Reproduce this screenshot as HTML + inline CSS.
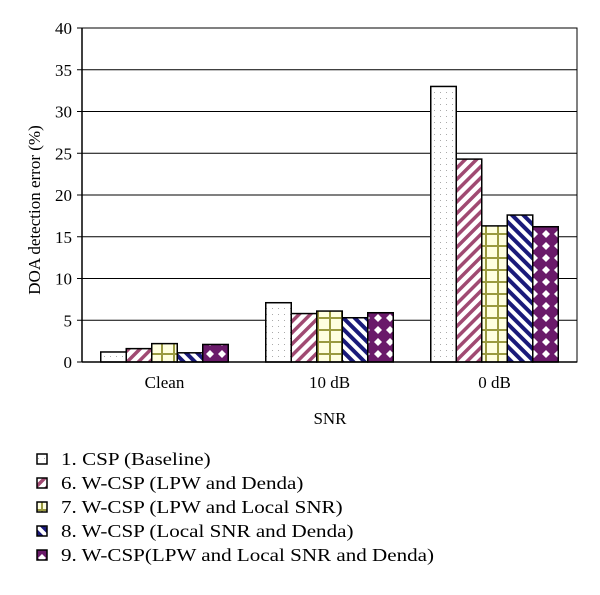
<!DOCTYPE html>
<html><head><meta charset="utf-8"><style>
body{margin:0;background:#fff;}
svg text{font-family:"Liberation Serif",serif;fill:#000;}
</style></head><body>
<svg id="chart" width="600" height="590" xmlns="http://www.w3.org/2000/svg">
<defs>
<pattern id="p0" width="6" height="6" patternUnits="userSpaceOnUse"><rect width="6" height="6" fill="#fff"/><rect x="2" y="2" width="1" height="1" fill="#aaa"/></pattern>
<pattern id="p1" width="8" height="8" patternUnits="userSpaceOnUse" patternTransform="rotate(45)"><rect width="8" height="8" fill="#fff"/><rect width="3.5" height="8" fill="#a04a72"/></pattern>
<pattern id="p2" width="12" height="12" patternUnits="userSpaceOnUse"><rect width="12" height="12" fill="#ffffe0"/><rect x="0" y="5" width="12" height="2" fill="#9a9a40"/><rect x="5" y="0" width="2" height="12" fill="#9a9a40"/></pattern>
<pattern id="p3" width="8" height="8" patternUnits="userSpaceOnUse" patternTransform="rotate(-45)"><rect width="8" height="8" fill="#fff"/><rect width="4" height="8" fill="#1a1a7a"/></pattern>
<pattern id="p4" width="12" height="12" patternUnits="userSpaceOnUse"><rect width="12" height="12" fill="#6a1a6a"/><polygon points="6,2 10,6 6,10 2,6" fill="#fff"/></pattern>
</defs>
<g id="grid"></g>
<g id="bars"></g>
<g id="axes"></g>
<g id="legend"></g>
<text x="330" y="424" font-size="17" text-anchor="middle">SNR</text>
<text transform="translate(40,210) rotate(-90)" font-size="17" text-anchor="middle">DOA detection error (%)</text>
</svg>
<script>
const categories=["Clean","10 dB","0 dB"];
const seriesNames=["1. CSP (Baseline)","6. W-CSP (LPW and Denda)","7. W-CSP (LPW and Local SNR)","8. W-CSP (Local SNR and Denda)","9. W-CSP(LPW and Local SNR and Denda)"];
const s1=[1.2,7.1,33.0];
const s6=[1.6,5.8,24.3];
const s7=[2.2,6.1,16.3];
const s8=[1.1,5.3,17.6];
const s9=[2.1,5.9,16.2];
const yTicks=[0,5,10,15,20,25,30,35,40];
const series=[s1,s6,s7,s8,s9];
const NS="http://www.w3.org/2000/svg";
const X0=82,X1=577,Y0=362,Y1=28,YMAX=40;
const y=v=>Y0-(v/YMAX)*(Y0-Y1);
const gw=(X1-X0)/categories.length, bw=25.5;
function mk(tag,attrs,parent){const e=document.createElementNS(NS,tag);for(const k in attrs)e.setAttribute(k,attrs[k]);parent.appendChild(e);return e;}
const grid=document.getElementById('grid'),bars=document.getElementById('bars'),axes=document.getElementById('axes'),legend=document.getElementById('legend');
mk('rect',{x:X0,y:Y1,width:X1-X0,height:Y0-Y1,fill:'#fff',stroke:'#000','stroke-width':1},grid);
yTicks.forEach(t=>{
  const l=mk('line',{x1:X0-5,x2:X1,y1:y(t),y2:y(t),stroke:'#000','stroke-width':1},grid);
  
  
  const tx=mk('text',{x:X0-10,y:y(t)+6,'font-size':17,'text-anchor':'end'},axes);
  tx.textContent=t;
  
  
});
categories.forEach((c,i)=>{
  const cx=X0+gw*(i+0.5);
  const start=cx-bw*series.length/2;
  series.forEach((s,j)=>{
    const r=mk('rect',{x:start+j*bw,y:y(s[i]),width:bw,height:Y0-y(s[i]),fill:'url(#p'+j+')',stroke:'#000','stroke-width':1.5},bars);
    
    
  });
  const tx=mk('text',{x:cx,y:Y0+26,'font-size':17,'text-anchor':'middle'},axes);
  tx.textContent=c;
  
  
});
mk('line',{x1:X0,x2:X0,y1:Y1,y2:Y0,stroke:'#000','stroke-width':1.5},axes);
mk('line',{x1:X0,x2:X1,y1:Y0,y2:Y0,stroke:'#000','stroke-width':1.5},axes);
seriesNames.forEach((n,j)=>{
  const yy=459+j*24;
  const g=mk('g',{},legend);
  
  
  mk('rect',{x:37,y:yy-5,width:10,height:10,fill:'url(#p'+j+')',stroke:'#000','stroke-width':1.5},g);
  const t=mk('text',{x:61,y:yy+6,'font-size':18},g);
  t.textContent=n;
  const w=t.getComputedTextLength();
  t.setAttribute('textLength',(w*1.17).toFixed(1));
  t.setAttribute('lengthAdjust','spacingAndGlyphs');
});
</script>
</body></html>
